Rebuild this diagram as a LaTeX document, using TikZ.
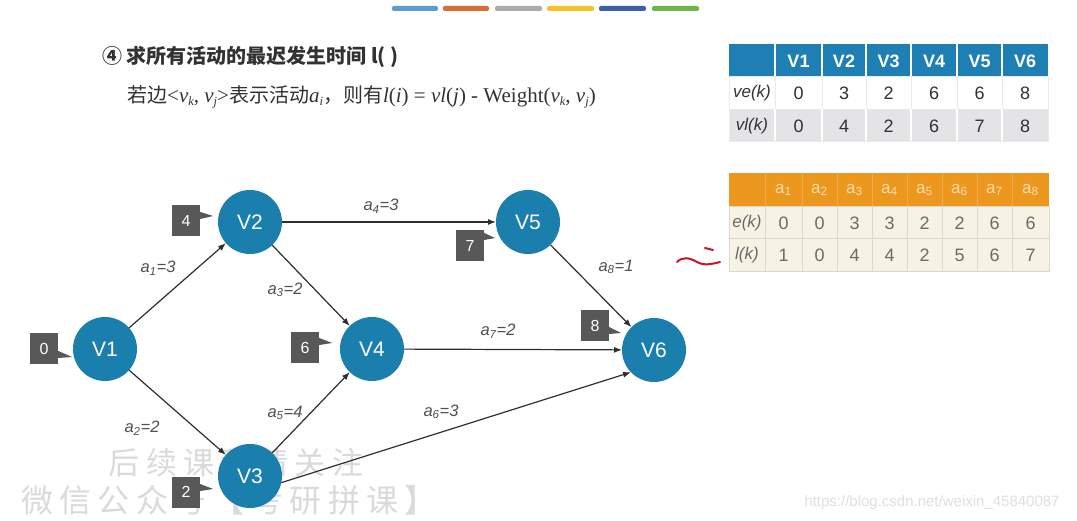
\documentclass[tikz,border=0pt]{standalone}
\usepackage{fontspec}
\setmainfont{Liberation Sans}
\newfontfamily\cjk{Noto Sans CJK SC}
\newfontfamily\cjkwm[LetterSpace=20]{Noto Sans CJK SC}
\newfontfamily\tms{Liberation Serif}
\usetikzlibrary{arrows.meta}
\definecolor{nodeblue}{RGB}{27,127,174}
\definecolor{hdrblue}{RGB}{30,127,180}
\definecolor{hdrorange}{RGB}{236,151,30}
\definecolor{boxgray}{RGB}{88,88,88}
\definecolor{lblgray}{RGB}{80,80,80}
\definecolor{txtdark}{RGB}{50,50,50}
\definecolor{cream}{RGB}{246,242,228}
\definecolor{creamline}{RGB}{220,216,204}
\definecolor{palehdr}{RGB}{250,222,170}
\definecolor{rowgray}{RGB}{228,228,231}
\definecolor{wmgray}{RGB}{218,218,218}
\definecolor{redmark}{RGB}{200,20,40}
\definecolor{barA}{RGB}{93,155,210}
\definecolor{barB}{RGB}{215,110,50}
\definecolor{barC}{RGB}{170,170,170}
\definecolor{barD}{RGB}{240,196,40}
\definecolor{barE}{RGB}{60,95,170}
\definecolor{barF}{RGB}{110,180,70}
\newcommand{\vsub}[2]{{\itshape #1}\raisebox{-0.28ex}{\fontsize{12.5}{12.5}\selectfont\itshape #2}}
\tikzset{
  vx/.style={circle, fill=nodeblue, minimum size=64pt, inner sep=0pt, outer sep=0pt, text=white, font=\fontsize{21}{21}\selectfont},
  ed/.style={draw=black!82, line width=1.2pt, -{Latex[length=8pt,width=6pt]}},
  el/.style={font=\fontsize{16.5}{16.5}\selectfont\itshape, text=lblgray, inner sep=0pt},
  lbox/.style={rectangle, fill=boxgray, text=white, minimum width=28pt, minimum height=31pt, inner sep=0pt, font=\fontsize{16}{16}\selectfont},
  th/.style={text=white, font=\bfseries\fontsize{18}{18}\selectfont, inner sep=0pt},
  td/.style={text=txtdark, font=\fontsize{18}{18}\selectfont, inner sep=0pt},
  tl/.style={text=txtdark, font=\itshape\fontsize{17}{17}\selectfont, inner sep=0pt},
  oh/.style={text=palehdr, font=\fontsize{17}{17}\selectfont, inner sep=0pt},
  od/.style={text=black!58, font=\fontsize{18}{18}\selectfont, inner sep=0pt},
  ol/.style={text=black!58, font=\itshape\fontsize{17}{17}\selectfont, inner sep=0pt},
  bar/.style={rounded corners=2pt}
}
\begin{document}
\begin{tikzpicture}[x=1pt,y=-1pt]
\useasboundingbox (0,0) rectangle (1077,521);
\fill[white] (0,0) rectangle (1077,521);
% colour bars
\fill[bar,barA] (392,6) rectangle (438,11);
\fill[bar,barB] (443,6) rectangle (489,11);
\fill[bar,barC] (495,6) rectangle (542,11);
\fill[bar,barD] (547,6) rectangle (594,11);
\fill[bar,barE] (599,6) rectangle (646,11);
\fill[bar,barF] (652,6) rectangle (699,11);
% title and formula
\node[anchor=west, inner sep=0pt, text=txtdark, font=\cjk\bfseries\fontsize{20}{24}\selectfont] (title) at (102,57) {④ 求所有活动的最迟发生时间 l( )};
\node[anchor=west, inner sep=0pt, text=txtdark] (formula) at (127,97) {\cjk\fontsize{20}{22}\selectfont 若边\tms\fontsize{21}{22}\selectfont<\vsub{v}{k}, \vsub{v}{j}>\cjk\fontsize{20}{22}\selectfont 表示活动\tms\fontsize{21}{22}\selectfont\vsub{a}{i}\cjk\fontsize{20}{22}\selectfont ，则有\tms\fontsize{21}{22}\selectfont{\itshape l}(\textit{i}) = \textit{vl}(\textit{j}) - Weight(\vsub{v}{k}, \vsub{v}{j})};
% watermarks
\node[inner sep=0pt, text=wmgray, font=\cjkwm\fontsize{31}{31}\selectfont] (wm1) at (236,463) {后续课程请关注};
\node[inner sep=0pt, text=wmgray, font=\cjkwm\fontsize{32}{32}\selectfont] (wm2) at (229,500) {微信公众号【考研拼课】};
\node[inner sep=0pt, text=black!12, font=\fontsize{15}{15}\selectfont] (wm3) at (932,503) {https://blog.csdn.net/weixin\_45840087};
% graph nodes
\node[vx] (v1) at (105,349) {V1};
\node[vx] (v2) at (250,222) {V2};
\node[vx] (v3) at (250,476) {V3};
\node[vx] (v4) at (372,349) {V4};
\node[vx] (v5) at (528,222) {V5};
\node[vx] (v6) at (654,350) {V6};
% edges
\draw[ed] (v1) -- (v2);
\draw[ed] (v1) -- (v3);
\draw[ed] (v2) -- (v4);
\draw[ed] (v2) -- (v5);
\draw[ed] (v3) -- (v4);
\draw[ed] (v3.-12) -- (v6.224);
\draw[ed] (v4) -- (v6);
\draw[ed] (v5) -- (v6);
% edge labels
\node[el] (l1) at (158,268) {a\textsubscript{1}=3};
\node[el] (l2) at (142,428) {a\textsubscript{2}=2};
\node[el] (l3) at (285,290) {a\textsubscript{3}=2};
\node[el] (l4) at (381,206) {a\textsubscript{4}=3};
\node[el] (l5) at (285,413) {a\textsubscript{5}=4};
\node[el] (l6) at (441,412) {a\textsubscript{6}=3};
\node[el] (l7) at (498,331) {a\textsubscript{7}=2};
\node[el] (l8) at (616,267) {a\textsubscript{8}=1};
% value boxes with tails
\node[lbox] (b1) at (44,349) {0};
\fill[boxgray] ([yshift=-2pt]b1.east) -- ([yshift=-9pt]b1.east) -- ([xshift=14pt,yshift=-8pt]b1.east) -- cycle;
\node[lbox] (b2) at (186,221) {4};
\fill[boxgray] ([yshift=9pt]b2.east) -- ([yshift=2pt]b2.east) -- ([xshift=13pt,yshift=5pt]b2.east) -- cycle;
\node[lbox] (b4) at (305,348) {6};
\fill[boxgray] ([yshift=10pt]b4.east) -- ([yshift=3pt]b4.east) -- ([xshift=13pt,yshift=5pt]b4.east) -- cycle;
\node[lbox] (b3) at (186,492) {2};
\fill[boxgray] ([yshift=8pt]b3.east) -- ([yshift=1pt]b3.east) -- ([xshift=13pt,yshift=3pt]b3.east) -- cycle;
\node[lbox] (b5) at (470,246) {7};
\fill[boxgray] ([yshift=13pt]b5.east) -- ([yshift=6pt]b5.east) -- ([xshift=11pt,yshift=8pt]b5.east) -- cycle;
\node[lbox] (b6) at (595,326) {8};
\fill[boxgray] ([yshift=-1pt]b6.east) -- ([yshift=-8pt]b6.east) -- ([xshift=12pt,yshift=-7pt]b6.east) -- cycle;
% red hand mark
\draw[redmark, line width=2pt, line cap=round] (677,262) .. controls (683,256) and (690,258) .. (697,262) .. controls (704,266) and (712,264) .. (720,262);
\draw[redmark, line width=2pt, line cap=round] (705,248) -- (713,250);
% table 1
\fill[hdrblue] (729,44) rectangle (1048,77);
\fill[white] (729,77) rectangle (1048,109);
\fill[rowgray] (729,109) rectangle (1048,142);
\foreach \x in {775,822,866,911,957,1002} {
  \draw[white, line width=1.5pt] (\x,44) -- (\x,77);
  \draw[black!8, line width=1pt] (\x,77) -- (\x,109);
  \draw[white, line width=1.5pt] (\x,109) -- (\x,142);
}
\draw[black!8, line width=1pt] (729,77) rectangle (1048,142);
\foreach \n/\x in {V1/798.5, V2/844, V3/888.5, V4/934, V5/979.5, V6/1025}
  \node[th] (h\n) at (\x,61) {\n};
\node[tl] (lve) at (752,93.5) {ve(k)};
\node[tl] (lvl) at (752,126) {vl(k)};
\foreach \v/\x [count=\i] in {0/798.5, 3/844, 2/888.5, 6/934, 6/979.5, 8/1025}
  \node[td] (ve\i) at (\x,93.5) {\v};
\foreach \v/\x [count=\i] in {0/798.5, 4/844, 2/888.5, 6/934, 7/979.5, 8/1025}
  \node[td] (vl\i) at (\x,126) {\v};
% table 2
\fill[hdrorange] (729,173) rectangle (1049,207);
\fill[cream] (729,207) rectangle (1049,272);
\foreach \x in {765,802,837,872,907,942,977,1012} {
  \draw[hdrorange!80!white, line width=1pt] (\x,173) -- (\x,207);
  \draw[creamline, line width=1pt] (\x,207) -- (\x,272);
}
\draw[creamline, line width=1pt] (729,239) -- (1049,239);
\draw[creamline, line width=1pt] (729,207) rectangle (1049,272);
\foreach \s/\x in {1/783.5, 2/819.5, 3/854.5, 4/889.5, 5/924.5, 6/959.5, 7/994.5, 8/1030.5}
  \node[oh] (ha\s) at (\x,190) {a\textsubscript{\s}};
\node[ol] (lek) at (747,223) {e(k)};
\node[ol] (llk) at (747,255.5) {l(k)};
\foreach \v/\x [count=\i] in {0/783.5, 0/819.5, 3/854.5, 3/889.5, 2/924.5, 2/959.5, 6/994.5, 6/1030.5}
  \node[od] (e\i) at (\x,223) {\v};
\foreach \v/\x [count=\i] in {1/783.5, 0/819.5, 4/854.5, 4/889.5, 2/924.5, 5/959.5, 6/994.5, 7/1030.5}
  \node[od] (l\i k) at (\x,255.5) {\v};
\end{tikzpicture}
\end{document}
